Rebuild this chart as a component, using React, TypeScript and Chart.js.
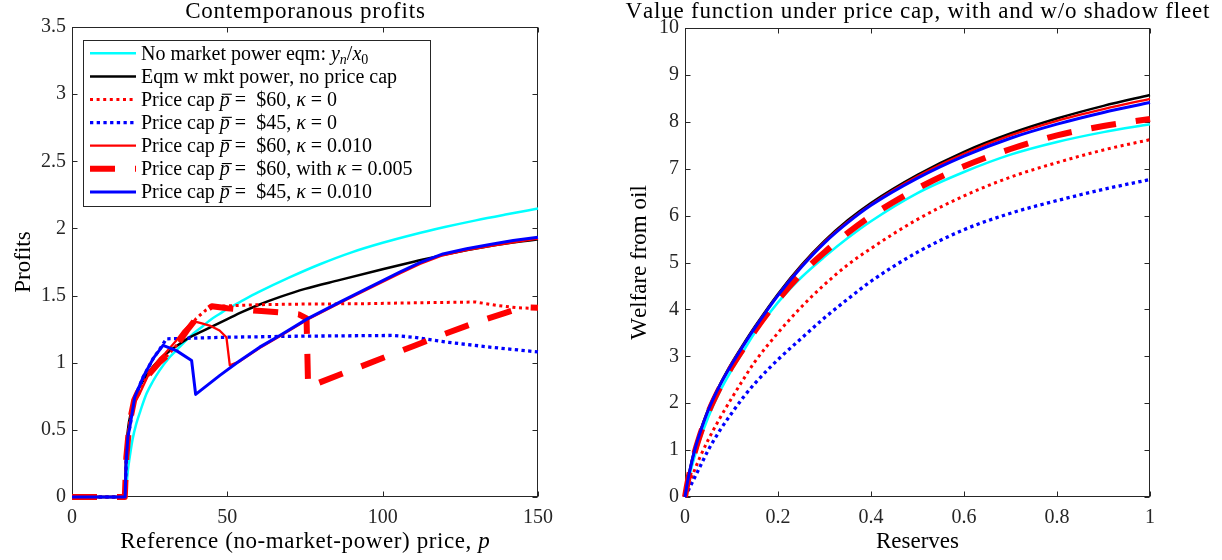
import React, { useEffect, useRef } from "react";
import { Chart, registerables } from "chart.js";

Chart.register(...registerables);

const SERIF = '"Liberation Serif", "Times New Roman", serif';
const AXIS_COLOR = "#262626";

// ---------- series names (shared by both panels) ----------
const seriesLabels = [
  "No market power eqm: *y_n*/*x*_0",
  "Eqm w mkt power, no price cap",
  "Price cap *~p* =  $60, *κ* = 0",
  "Price cap *~p* =  $45, *κ* = 0",
  "Price cap *~p* =  $60, *κ* = 0.010",
  "Price cap *~p* =  $60, with *κ* = 0.005",
  "Price cap *~p* =  $45, *κ* = 0.010",
];

// ---------- left panel: contemporaneous profits ----------
const leftXTicks = [0, 50, 100, 150];
const leftXTickLabels = ["0", "50", "100", "150"];
const leftYTicks = [0, 0.5, 1, 1.5, 2, 2.5, 3, 3.5];
const leftYTickLabels = ["0", "0.5", "1", "1.5", "2", "2.5", "3", "3.5"];

const profitNmpX = [0, 17.3, 17.6, 18, 18.6, 19.5, 20.7, 22, 24, 26, 28.2, 31, 33.6, 36, 39, 42, 44.3, 47.6, 50, 55, 60, 70, 80, 90, 100, 110, 120, 130, 140, 150];
const profitNmpY = [0, 0, 0.1, 0.2, 0.3, 0.43, 0.546, 0.64, 0.77, 0.86, 0.943, 1.03, 1.092, 1.15, 1.216, 1.27, 1.315, 1.365, 1.4, 1.464, 1.525, 1.635, 1.735, 1.822, 1.893, 1.955, 2.01, 2.06, 2.105, 2.148];

const profitMktX = [0, 17.1, 17.4, 18, 19, 20, 22, 25, 28, 31, 34, 38, 42, 46, 50, 55, 60, 67, 75, 86, 99, 110, 120, 135, 150];
const profitMktY = [0, 0, 0.3, 0.5, 0.63, 0.72, 0.83, 0.94, 1.02, 1.08, 1.13, 1.19, 1.235, 1.28, 1.325, 1.38, 1.43, 1.49, 1.55, 1.615, 1.69, 1.752, 1.805, 1.87, 1.92];

const profitCap60k0X = [0, 17.0, 17.5, 18.5, 20, 22, 25, 28, 31, 34, 37, 40, 43, 45.4, 60, 75, 92.7, 110, 130, 136.6, 143, 150];
const profitCap60k0Y = [0, 0, 0.3, 0.55, 0.72, 0.82, 0.92, 1.0, 1.06, 1.14, 1.24, 1.33, 1.39, 1.419, 1.432, 1.437, 1.439, 1.446, 1.452, 1.427, 1.41, 1.402];

const profitCap45k0X = [0, 17.1, 17.4, 18, 18.6, 20.2, 22.9, 26.1, 28.5, 30.4, 50, 75, 103.4, 109.8, 120.6, 135, 150];
const profitCap45k0Y = [0, 0, 0.25, 0.45, 0.52, 0.744, 0.893, 1.03, 1.11, 1.178, 1.19, 1.198, 1.203, 1.19, 1.153, 1.115, 1.08];

const profitCap60k010X = [0, 17.1, 17.4, 18, 20, 21.8, 25, 28.2, 30, 33.6, 36, 39, 41.5, 44.3, 47.5, 49.7, 50.8, 54, 60.4, 66.9, 76, 86.2, 96, 105.5, 112, 119.4, 127, 135, 142, 150];
const profitCap60k010Y = [0, 0, 0.28, 0.48, 0.7, 0.77, 0.93, 1.03, 1.07, 1.166, 1.24, 1.31, 1.295, 1.277, 1.24, 1.19, 0.98, 1.01, 1.11, 1.197, 1.323, 1.444, 1.557, 1.665, 1.736, 1.8, 1.838, 1.87, 1.896, 1.925];

const profitCap60k005X = [0, 17.0, 17.5, 18.5, 20, 22, 25, 28, 31, 34, 37, 40, 43, 45, 50, 55, 61, 69, 73, 75.5, 76, 78.7, 90, 100, 110, 120, 130, 140, 145, 150];
const profitCap60k005Y = [0, 0, 0.3, 0.55, 0.72, 0.82, 0.92, 1.0, 1.06, 1.14, 1.24, 1.33, 1.39, 1.42, 1.405, 1.395, 1.385, 1.37, 1.36, 1.33, 0.82, 0.844, 0.945, 1.035, 1.125, 1.215, 1.3, 1.375, 1.414, 1.41];

const profitCap45k010X = [0, 17.1, 17.4, 18, 18.6, 20.2, 22.9, 26.1, 29.3, 33.6, 38.5, 39.8, 47.6, 54, 60.4, 66.9, 76, 86.2, 96, 105.5, 112, 119.4, 127, 135, 142, 150];
const profitCap45k010Y = [0, 0, 0.25, 0.45, 0.52, 0.744, 0.893, 1.03, 1.129, 1.09, 1.017, 0.764, 0.906, 1.015, 1.116, 1.203, 1.33, 1.451, 1.565, 1.674, 1.745, 1.81, 1.848, 1.882, 1.91, 1.935];

// ---------- right panel: value function ----------
const rightXTicks = [0, 0.2, 0.4, 0.6, 0.8, 1];
const rightXTickLabels = ["0", "0.2", "0.4", "0.6", "0.8", "1"];
const rightYTicks = [0, 1, 2, 3, 4, 5, 6, 7, 8, 9, 10];
const rightYTickLabels = ["0", "1", "2", "3", "4", "5", "6", "7", "8", "9", "10"];

const reserves = [0, 0.005, 0.01, 0.02, 0.03, 0.05, 0.075, 0.1, 0.125, 0.15, 0.2, 0.25, 0.3, 0.35, 0.4, 0.5, 0.6, 0.7, 0.8, 0.9, 1.0];
const welfareNmp = [0, 0.25, 0.47, 0.84, 1.16, 1.7, 2.25, 2.7, 3.1, 3.5, 4.15, 4.68, 5.12, 5.52, 5.88, 6.48, 6.93, 7.3, 7.57, 7.78, 7.95];
const welfareMkt = [0, 0.3, 0.56, 0.99, 1.32, 1.87, 2.4, 2.85, 3.25, 3.63, 4.33, 4.94, 5.46, 5.9, 6.27, 6.87, 7.36, 7.75, 8.07, 8.34, 8.57];
const welfareCap60k0 = [0, 0.15, 0.3, 0.56, 0.8, 1.22, 1.68, 2.1, 2.5, 2.88, 3.5, 4.05, 4.53, 4.95, 5.3, 5.92, 6.42, 6.82, 7.13, 7.4, 7.62];
const welfareCap45k0 = [0, 0.1, 0.2, 0.4, 0.6, 1.0, 1.42, 1.78, 2.12, 2.42, 2.93, 3.38, 3.82, 4.22, 4.6, 5.22, 5.7, 6.05, 6.32, 6.56, 6.77];
const welfareCap60k010 = [0, 0.3, 0.55, 0.98, 1.31, 1.86, 2.39, 2.83, 3.23, 3.61, 4.31, 4.92, 5.44, 5.87, 6.24, 6.84, 7.32, 7.71, 8.02, 8.27, 8.49];
const welfareCap60k005 = [0, 0.28, 0.52, 0.92, 1.25, 1.8, 2.33, 2.77, 3.16, 3.54, 4.2, 4.76, 5.22, 5.63, 5.99, 6.58, 7.05, 7.42, 7.71, 7.91, 8.06];
const welfareCap45k010 = [0, 0.3, 0.55, 0.97, 1.3, 1.85, 2.38, 2.82, 3.22, 3.6, 4.3, 4.9, 5.42, 5.85, 6.22, 6.8, 7.27, 7.65, 7.95, 8.2, 8.41];

// ---------- styles ----------
const seriesColors = ["#00FFFF", "#000000", "#FF0000", "#0000FF", "#FF0000", "#FF0000", "#0000FF"];
const seriesWidths = [2.5, 2.5, 3, 3.3, 2.3, 6, 3];
const seriesDashes: number[][] = [[], [], [3, 3.6], [3.3, 3.4], [], [25, 20], []];
const leftSmooth = [true, true, false, false, false, false, false];

function renderRich(ctx: CanvasRenderingContext2D, s: string, x: number, y: number, size: number, draw = true, ls = 0) {
  let italic = false;
  let cx = x;
  for (let i = 0; i < s.length; i++) {
    let ch = s[i];
    if (ch === "*") { italic = !italic; continue; }
    let sub = false;
    let bar = false;
    if (ch === "_") { sub = true; ch = s[++i]; }
    else if (ch === "~") { bar = true; ch = s[++i]; }
    const fs = sub ? size * 0.7 : size;
    const it = italic && !/[0-9]/.test(ch);
    ctx.font = `${it ? "italic " : ""}${fs}px ${SERIF}`;
    const w = ctx.measureText(ch).width;
    if (draw) {
      ctx.fillText(ch, cx, y + (sub ? size * 0.22 : 0));
      if (bar) ctx.fillRect(cx + size * 0.1, y - size * 0.6, w, Math.max(1, size * 0.055));
    }
    cx += w + ls;
  }
  return cx - x - ls;
}

type PanelCfg = {
  key: string;
  title: string;
  titleLs: number;
  xTitle: string;
  xTitleLs: number;
  yTitle: string;
  yTitleX: number;
  legend: boolean;
};

function makePanelPlugin(cfg: PanelCfg) {
  return {
    id: "panel_" + cfg.key,
    beforeDatasetsDraw(chart: any) {
      const { ctx, chartArea: a } = chart;
      const xs = chart.scales.x;
      const ys = chart.scales.y;
      ctx.save();
      ctx.strokeStyle = AXIS_COLOR;
      ctx.lineWidth = 1;
      const L = Math.round(a.left) + 0.5;
      const R = Math.round(a.right) - 0.5;
      const T = Math.round(a.top) + 0.5;
      const B = Math.round(a.bottom) - 0.5;
      ctx.strokeRect(L, T, R - L, B - T);
      ctx.beginPath();
      xs.ticks.forEach((t: any) => {
        const px = Math.round(xs.getPixelForValue(t.value)) + 0.5;
        ctx.moveTo(px, B); ctx.lineTo(px, B - 5);
        ctx.moveTo(px, T); ctx.lineTo(px, T + 5);
      });
      ys.ticks.forEach((t: any) => {
        const py = Math.round(ys.getPixelForValue(t.value)) + 0.5;
        ctx.moveTo(L, py); ctx.lineTo(L + 5, py);
        ctx.moveTo(R, py); ctx.lineTo(R - 5, py);
      });
      ctx.stroke();
      ctx.restore();
    },
    afterDatasetsDraw(chart: any) {
      if (!cfg.legend) return;
      const { ctx } = chart;
      ctx.save();
      const bx = 83.5, by = 40.5, bw = 347, bh = 166;
      ctx.fillStyle = "#ffffff";
      ctx.fillRect(bx, by, bw, bh);
      ctx.strokeStyle = AXIS_COLOR;
      ctx.lineWidth = 1;
      ctx.strokeRect(bx, by, bw, bh);
      seriesLabels.forEach((lab, i) => {
        const yc = 53.3 + i * 23.1;
        ctx.beginPath();
        ctx.strokeStyle = seriesColors[i];
        ctx.lineWidth = seriesWidths[i];
        ctx.lineCap = "butt";
        ctx.setLineDash(seriesDashes[i]);
        ctx.moveTo(90, yc);
        ctx.lineTo(136, yc);
        ctx.stroke();
        ctx.setLineDash([]);
        ctx.fillStyle = "#000000";
        ctx.textBaseline = "alphabetic";
        ctx.textAlign = "left";
        renderRich(ctx, lab, 141, yc + 6.2, 20);
      });
      ctx.restore();
    },
    afterDraw(chart: any) {
      const { ctx, chartArea: a } = chart;
      const cx = (a.left + a.right) / 2;
      const cy = (a.top + a.bottom) / 2;
      ctx.save();
      ctx.textBaseline = "alphabetic";
      ctx.textAlign = "left";
      ctx.fillStyle = "#000000";
      // title
      let w = renderRich(ctx, cfg.title, 0, 0, 23, false, cfg.titleLs);
      renderRich(ctx, cfg.title, cx - w / 2, 18, 23, true, cfg.titleLs);
      // x title
      w = renderRich(ctx, cfg.xTitle, 0, 0, 23, false, cfg.xTitleLs);
      renderRich(ctx, cfg.xTitle, cx - w / 2, 547.5, 23, true, cfg.xTitleLs);
      // y title (rotated)
      w = renderRich(ctx, cfg.yTitle, 0, 0, 23, false);
      ctx.translate(cfg.yTitleX, cy);
      ctx.rotate(-Math.PI / 2);
      renderRich(ctx, cfg.yTitle, -w / 2, 0, 23);
      ctx.restore();
    },
  };
}

function buildDatasets(xsList: number[][], ysList: number[][], smooth: boolean[]) {
  return ysList.map((ys, i) => ({
    label: seriesLabels[i].replace(/[*_~]/g, ""),
    data: ys.map((y, j) => ({ x: xsList[i][j], y })),
    borderColor: seriesColors[i],
    backgroundColor: seriesColors[i],
    borderWidth: seriesWidths[i],
    borderDash: seriesDashes[i],
    borderCapStyle: "butt",
    borderJoinStyle: "round",
    pointRadius: 0,
    fill: false,
    tension: 0,
    cubicInterpolationMode: smooth[i] ? "monotone" : "default",
    clip: false,
    order: ysList.length - i,
  }));
}

function scaleOpts(min: number, max: number, ticks: number[], labels: string[], fitKey: "width" | "height", fitVal: number, padding: number) {
  return {
    type: "linear",
    min,
    max,
    afterBuildTicks: (s: any) => { s.ticks = ticks.map((v) => ({ value: v })); },
    afterFit: (s: any) => { s[fitKey] = fitVal; },
    ticks: {
      autoSkip: false,
      maxRotation: 0,
      padding,
      color: AXIS_COLOR,
      font: { family: SERIF, size: 20 },
      callback: (_v: any, idx: number) => labels[idx],
    },
    grid: { display: false, drawTicks: false },
    border: { display: false },
  };
}

function leftConfig(): any {
  const xsList = [profitNmpX, profitMktX, profitCap60k0X, profitCap45k0X, profitCap60k010X, profitCap60k005X, profitCap45k010X];
  const ysList = [profitNmpY, profitMktY, profitCap60k0Y, profitCap45k0Y, profitCap60k010Y, profitCap60k005Y, profitCap45k010Y];
  return {
    type: "line",
    data: { datasets: buildDatasets(xsList, ysList, leftSmooth) },
    options: {
      animation: false,
      responsive: false,
      events: [],
      layout: { padding: { left: 0, top: 27, right: 62, bottom: 0 } },
      plugins: { legend: { display: false }, tooltip: { enabled: false }, title: { display: false } },
      scales: {
        x: scaleOpts(0, 150, leftXTicks, leftXTickLabels, "height", 63, 9),
        y: scaleOpts(0, 3.5, leftYTicks, leftYTickLabels, "width", 72, 6),
      },
    },
    plugins: [
      makePanelPlugin({
        key: "left",
        title: "Contemporanous profits",
        titleLs: 0.8,
        xTitle: "Reference (no-market-power) price, *p*",
        xTitleLs: 0.6,
        yTitle: "Profits",
        yTitleX: 30,
        legend: true,
      }),
    ],
  };
}

function rightConfig(): any {
  const xsList = seriesLabels.map(() => reserves);
  const ysList = [welfareNmp, welfareMkt, welfareCap60k0, welfareCap45k0, welfareCap60k010, welfareCap60k005, welfareCap45k010];
  return {
    type: "line",
    data: { datasets: buildDatasets(xsList, ysList, seriesLabels.map(() => true)) },
    options: {
      animation: false,
      responsive: false,
      events: [],
      layout: { padding: { left: 0, top: 28, right: 72, bottom: 0 } },
      plugins: { legend: { display: false }, tooltip: { enabled: false }, title: { display: false } },
      scales: {
        x: scaleOpts(0, 1, rightXTicks, rightXTickLabels, "height", 63, 9),
        y: scaleOpts(0, 10, rightYTicks, rightYTickLabels, "width", 85, 6),
      },
    },
    plugins: [
      makePanelPlugin({
        key: "right",
        title: "Value function under price cap, with and w/o shadow fleet",
        titleLs: 0.8,
        xTitle: "Reserves",
        xTitleLs: 0,
        yTitle: "Welfare from oil",
        yTitleX: 46,
        legend: false,
      }),
    ],
  };
}

export default function App() {
  const leftRef = useRef<HTMLCanvasElement | null>(null);
  const rightRef = useRef<HTMLCanvasElement | null>(null);

  useEffect(() => {
    const c1 = new Chart(leftRef.current as HTMLCanvasElement, leftConfig());
    const c2 = new Chart(rightRef.current as HTMLCanvasElement, rightConfig());
    return () => {
      c1.destroy();
      c2.destroy();
    };
  }, []);

  return (
    <div style={{ position: "absolute", left: 0, top: 0, width: 1222, height: 560, background: "#ffffff" }}>
      <canvas ref={leftRef} width={600} height={560} style={{ position: "absolute", left: 0, top: 0 }} />
      <canvas ref={rightRef} width={622} height={560} style={{ position: "absolute", left: 600, top: 0 }} />
    </div>
  );
}
